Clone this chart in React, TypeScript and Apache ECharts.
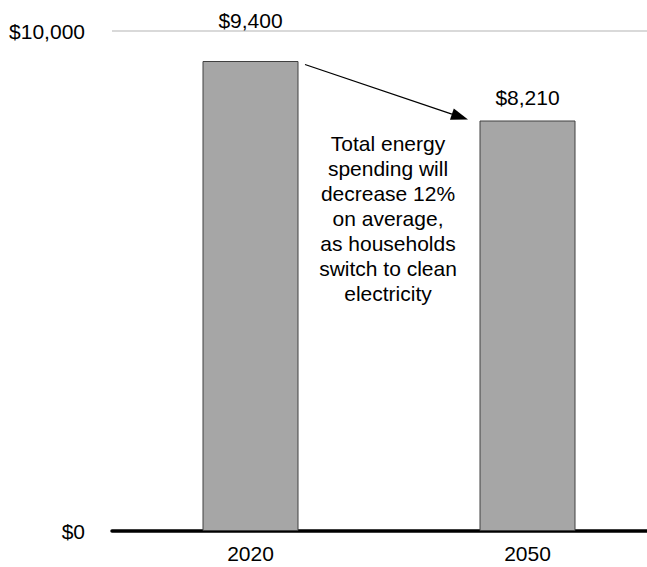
import React, { useEffect, useRef } from "react";
import * as echarts from "echarts";

const categories = ["2020", "2050"];
const spending = [9400, 8210];
const labelDistances = [28, 11];
const yTicks = [0, 10000];
const annotationLines = [
  "Total energy",
  "spending will",
  "decrease 12%",
  "on average,",
  "as households",
  "switch to clean",
  "electricity",
];

const FONT = 'Arial, "Liberation Sans", sans-serif';

export default function App() {
  const ref = useRef<HTMLDivElement>(null);

  useEffect(() => {
    if (!ref.current) return;
    const chart = echarts.init(ref.current, undefined, { renderer: "svg" });

    const tip = [468, 119.5];
    const start = [305, 64.5];
    const dx = tip[0] - start[0];
    const dy = tip[1] - start[1];
    const len = Math.sqrt(dx * dx + dy * dy);
    const ux = dx / len;
    const uy = dy / len;
    const headLen = 17;
    const headHalf = 6;
    const base = [tip[0] - headLen * ux, tip[1] - headLen * uy];
    const px = -uy * headHalf;
    const py = ux * headHalf;

    chart.setOption({
      animation: false,
      backgroundColor: "#ffffff",
      grid: { left: 112, right: 0, top: 31, bottom: 36, containLabel: false },
      xAxis: {
        type: "category",
        data: categories,
        boundaryGap: true,
        axisLine: { show: true, lineStyle: { color: "#000000", width: 3.5 } },
        axisTick: { show: false },
        axisLabel: {
          color: "#000000",
          fontSize: 21,
          fontFamily: FONT,
          margin: 12,
        },
        splitLine: { show: false },
      },
      yAxis: {
        type: "value",
        min: yTicks[0],
        max: yTicks[yTicks.length - 1],
        interval: yTicks[1] - yTicks[0],
        axisLine: { show: false },
        axisTick: { show: false },
        axisLabel: {
          color: "#000000",
          fontSize: 21,
          fontFamily: FONT,
          margin: 27,
          formatter: (v: number) => "$" + v.toLocaleString("en-US"),
        },
        splitLine: { show: true, lineStyle: { color: "#d9d9d9", width: 2 } },
      },
      series: [
        {
          type: "bar",
          barWidth: 96,
          data: spending.map((v, i) => ({
            value: v,
            label: { distance: labelDistances[i] },
          })),
          itemStyle: { color: "#a6a6a6", borderColor: "#404040", borderWidth: 1 },
          label: {
            show: true,
            position: "top",
            color: "#000000",
            fontSize: 21,
            fontFamily: FONT,
            lineHeight: 25,
            formatter: (p: any) => "$" + Number(p.value).toLocaleString("en-US"),
          },
          z: 1,
        },
      ],
      graphic: [
        {
          type: "line",
          shape: { x1: start[0], y1: start[1], x2: base[0], y2: base[1] },
          style: { stroke: "#000000", lineWidth: 1.3 },
          z: 10,
        },
        {
          type: "polygon",
          shape: {
            points: [
              [tip[0], tip[1]],
              [base[0] + px, base[1] + py],
              [base[0] - px, base[1] - py],
            ],
          },
          style: { fill: "#000000" },
          z: 10,
        },
        {
          type: "text",
          x: 388,
          y: 130.5,
          style: {
            text: annotationLines.join("\n"),
            fill: "#000000",
            fontSize: 21,
            fontFamily: FONT,
            lineHeight: 25,
            align: "center",
            verticalAlign: "top",
          },
          z: 10,
        },
      ],
    });

    return () => chart.dispose();
  }, []);

  return (
    <div
      style={{
        position: "fixed",
        left: 0,
        top: 0,
        width: 647,
        height: 567,
        overflow: "hidden",
        background: "#fff",
      }}
    >
      <div ref={ref} style={{ width: 666, height: 567 }} />
    </div>
  );
}
